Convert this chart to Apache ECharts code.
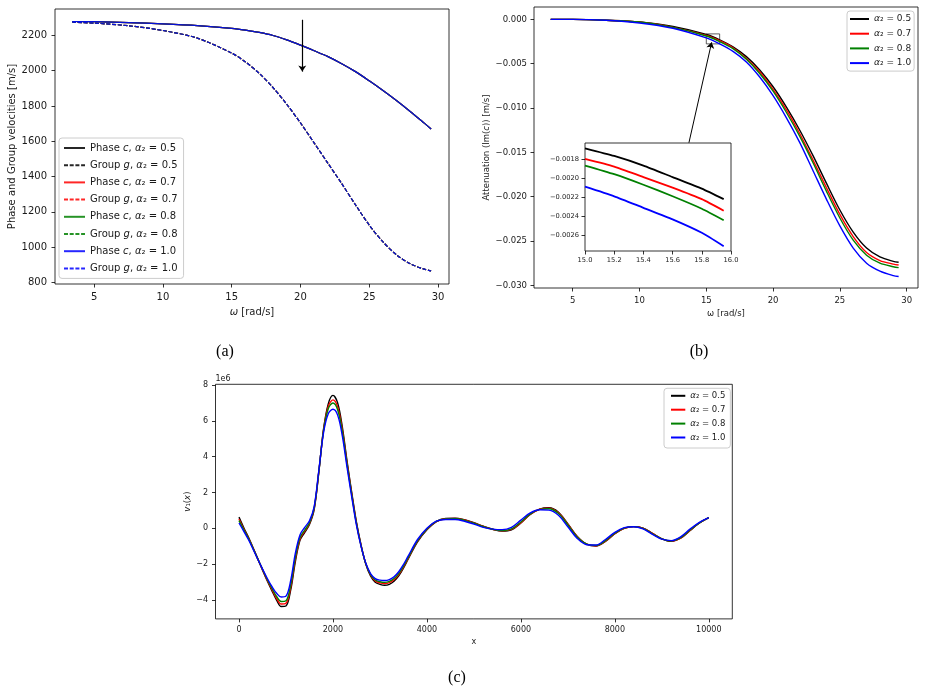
<!DOCTYPE html>
<html><head><meta charset="utf-8">
<script src="https://cdn.jsdelivr.net/npm/echarts@6/dist/echarts.min.js"></script>
<style>html,body{margin:0;padding:0;background:#fff}#c{width:926px;height:693px}</style>
</head><body><div id="c"></div>
<script>
// ---------- shared ----------
const alphas = ['0.5', '0.7', '0.8', '1.0'];
const colors = ['#000000', '#ff0000', '#008000', '#0000ff'];

// ---------- panel (a): phase / group velocities ----------
const omegaA = [3.4, 5, 7.5, 10, 12.5, 15, 16, 17, 18, 19, 20, 21, 22, 23, 24, 25, 26, 27, 28, 29, 29.5];
const phaseC = [2279, 2278, 2273, 2266, 2256, 2240, 2230, 2217, 2200, 2175, 2145, 2113, 2080, 2040, 1995, 1943, 1888, 1830, 1768, 1703, 1670];
const groupG = [2275, 2270, 2255, 2228, 2185, 2100, 2050, 1985, 1905, 1810, 1704, 1590, 1475, 1360, 1240, 1125, 1030, 955, 905, 875, 865];
const ticksAx = [5, 10, 15, 20, 25, 30];
const ticksAy = [800, 1000, 1200, 1400, 1600, 1800, 2000, 2200];
const arrowA = [[20.13, 2289], [20.13, 1995]];

// ---------- panel (b): attenuation ----------
const omegaB = [3.35, 5, 7.5, 10, 12.5, 15, 16, 17, 18, 19, 20, 21, 22, 23, 24, 25, 26, 27, 28, 29, 29.4];
const attB05 = [0, 0, -0.0001, -0.0003, -0.0008, -0.0017, -0.0023, -0.0031, -0.0042, -0.0057, -0.0076, -0.0099, -0.0125, -0.0154, -0.0185, -0.0215, -0.0240, -0.0258, -0.0268, -0.0273, -0.0274];
const attB07 = [0, 0, -0.0001, -0.0003, -0.0009, -0.0018, -0.0024, -0.0032, -0.0044, -0.0059, -0.0079, -0.0102, -0.0129, -0.0159, -0.0190, -0.0220, -0.0245, -0.0263, -0.0272, -0.0276, -0.0277];
const attB08 = [0, 0, -0.0001, -0.0003, -0.0009, -0.00187, -0.0025, -0.0033, -0.0045, -0.0061, -0.0081, -0.0105, -0.0132, -0.0162, -0.0194, -0.0224, -0.0249, -0.0266, -0.0275, -0.0279, -0.0280];
const attB10 = [0, 0, -0.0001, -0.0004, -0.0010, -0.00209, -0.00275, -0.0036, -0.0048, -0.0065, -0.0086, -0.0111, -0.0139, -0.0171, -0.0203, -0.0233, -0.0258, -0.0275, -0.0284, -0.0289, -0.0290];
const ticksBy = [0, -0.005, -0.010, -0.015, -0.020, -0.025, -0.030];
const zoomBox = [[15.0, -0.001635], [16.0, -0.00276]];
const connector = [[13.70, -0.01391], [15.40, -0.00259]];

// inset
const omegaIn = [15.0, 15.2, 15.4, 15.6, 15.8, 15.95];
const inB05 = [-0.00169, -0.00177, -0.00187, -0.00199, -0.00211, -0.00222];
const inB07 = [-0.00180, -0.00188, -0.00199, -0.00210, -0.00222, -0.00234];
const inB08 = [-0.00187, -0.00196, -0.00207, -0.00219, -0.00232, -0.00244];
const inB10 = [-0.00209, -0.00219, -0.00231, -0.00243, -0.00257, -0.00271];
const ticksInX = [15.0, 15.2, 15.4, 15.6, 15.8, 16.0];
const ticksInY = [-0.0018, -0.0020, -0.0022, -0.0024, -0.0026];

// ---------- panel (c): v1(x), units of 1e6 ----------
const xC = [0,100,200,300,400,500,600,700,800,900,1000,1100,1200,1300,1400,1500,1600,1700,1800,1900,2000,2100,2200,2300,2400,2500,2600,2700,2800,2900,3000,3100,3200,3300,3400,3500,3600,
  3800,4000,4200,4400,4600,4800,5000,5200,5400,5600,5800,6000,6200,6400,6600,6800,7000,7200,7400,7600,7800,8000,8200,8400,8600,8800,9000,9200,9400,9600,9800,10000];
const vC05 = [0.63,0.05,-0.48,-1.08,-1.70,-2.32,-2.92,-3.47,-4.00,-4.36,-4.33,-3.45,-1.85,-0.65,-0.22,0.22,1.05,3.15,5.55,6.95,7.42,
  7.00,5.65,3.75,2.00,0.35,-0.95,-2.00,-2.65,-3.00,-3.12,-3.17,-3.12,-2.95,-2.65,-2.22,-1.72,
  -0.75,-0.08,0.38,0.55,0.57,0.48,0.32,0.12,-0.05,-0.15,-0.08,0.30,0.78,1.08,1.15,0.90,0.25,-0.45,-0.88,-0.98,-0.72,-0.30,0.00,0.10,0.02,-0.28,-0.58,-0.72,-0.55,-0.12,0.30,0.60];
const vC07 = [0.52,-0.02,-0.52,-1.10,-1.70,-2.30,-2.88,-3.40,-3.90,-4.22,-4.18,-3.30,-1.72,-0.58,-0.15,0.27,1.10,3.18,5.50,6.80,7.17,
  6.78,5.50,3.65,1.93,0.30,-0.97,-1.98,-2.60,-2.93,-3.04,-3.08,-3.03,-2.87,-2.58,-2.16,-1.67,
  -0.71,-0.05,0.38,0.54,0.56,0.47,0.31,0.11,-0.05,-0.14,-0.06,0.32,0.79,1.07,1.13,0.87,0.23,-0.46,-0.88,-0.97,-0.71,-0.29,0.00,0.10,0.02,-0.28,-0.58,-0.71,-0.54,-0.11,0.30,0.60];
const vC08 = [0.43,-0.07,-0.55,-1.12,-1.70,-2.28,-2.84,-3.34,-3.80,-4.08,-4.04,-3.17,-1.60,-0.50,-0.09,0.31,1.14,3.20,5.45,6.68,7.00,
  6.62,5.38,3.57,1.87,0.26,-0.99,-1.97,-2.57,-2.88,-2.98,-3.01,-2.96,-2.80,-2.52,-2.11,-1.63,
  -0.68,-0.03,0.39,0.53,0.54,0.45,0.29,0.09,-0.05,-0.12,-0.03,0.36,0.81,1.06,1.10,0.83,0.19,-0.49,-0.88,-0.95,-0.68,-0.27,0.02,0.10,0.00,-0.30,-0.58,-0.70,-0.52,-0.09,0.31,0.60];
const vC10 = [0.30,-0.15,-0.62,-1.16,-1.72,-2.26,-2.78,-3.24,-3.62,-3.83,-3.78,-2.92,-1.38,-0.35,0.06,0.42,1.22,3.25,5.35,6.40,6.65,
  6.32,5.15,3.40,1.75,0.18,-1.02,-1.95,-2.52,-2.80,-2.89,-2.91,-2.86,-2.70,-2.42,-2.02,-1.55,
  -0.62,0.01,0.40,0.50,0.50,0.40,0.24,0.06,-0.04,-0.07,0.06,0.46,0.86,1.04,1.02,0.73,0.09,-0.56,-0.91,-0.93,-0.62,-0.22,0.04,0.09,-0.03,-0.33,-0.60,-0.68,-0.47,-0.04,0.34,0.60];
const ticksCx = [0, 2000, 4000, 6000, 8000, 10000];
const ticksCy = [-4, -2, 0, 2, 4, 6, 8];

// ---------- helpers ----------
const F = 'DejaVu Sans';
const TXT = '#1a1a1a';
const minus = s => String(s).replace('-', '\u2212');
const pairs = (xs, ys) => xs.map((x, k) => [x, ys[k]]);

function axis(o) {
  const ax = {
    type: 'value', gridIndex: o.grid, min: o.min, max: o.max,
    splitLine: { show: false }, axisLine: { show: false, onZero: false },
    axisTick: { show: true, length: 3.5, customValues: o.ticks, lineStyle: { color: '#000', width: 0.8 } },
    axisLabel: { customValues: o.ticks, fontFamily: F, fontSize: o.fs, color: TXT, margin: o.margin || 6,
      formatter: o.fmt || (v => minus(v)), showMinLabel: true, showMaxLabel: true },
    name: o.name || '', nameLocation: 'middle', nameGap: o.nameGap || 20,
    nameTextStyle: { fontFamily: F, fontSize: o.nfs || 10, color: TXT,
      rich: { i: { fontStyle: 'italic', fontFamily: F, fontSize: o.nfs || 10, color: TXT } } },
    z: o.z || 0
  };
  if (o.noMove) ax.nameMoveOverlap = false;
  return ax;
}

const series = [];
// (a)
alphas.forEach((a, i) => {
  series.push({ name: 'aC' + a, type: 'line', xAxisIndex: 0, yAxisIndex: 0, data: pairs(omegaA, phaseC),
    symbol: 'none', smooth: 0.3, animation: false,
    lineStyle: { color: colors[i], width: 1.2, opacity: 0.85 }, itemStyle: { color: colors[i] },
    markLine: i === 0 ? { silent: true, symbol: ['none', 'arrow'], symbolSize: 6, animation: false,
      label: { show: false }, lineStyle: { color: '#000', width: 1.2, type: 'solid', opacity: 1 },
      data: [[{ coord: arrowA[0] }, { coord: arrowA[1] }]] } : undefined });
  series.push({ name: 'aG' + a, type: 'line', xAxisIndex: 0, yAxisIndex: 0, data: pairs(omegaA, groupG),
    symbol: 'none', smooth: 0.3, animation: false,
    lineStyle: { color: colors[i], width: 1.2, opacity: 0.85, type: [4, 1.7] }, itemStyle: { color: colors[i] } });
});
// (b)
const attB = [attB05, attB07, attB08, attB10];
const inB = [inB05, inB07, inB08, inB10];
alphas.forEach((a, i) => {
  series.push({ name: 'b' + a, type: 'line', xAxisIndex: 1, yAxisIndex: 1, data: pairs(omegaB, attB[i]),
    symbol: 'none', smooth: 0.3, animation: false, z: 2,
    lineStyle: { color: colors[i], width: 1.4 }, itemStyle: { color: colors[i] },
    markArea: i === 0 ? { silent: true, itemStyle: { color: 'rgba(0,0,0,0)', borderColor: '#333', borderWidth: 0.8 },
      data: [[{ coord: zoomBox[0] }, { coord: zoomBox[1] }]] } : undefined,
    markLine: i === 0 ? { silent: true, symbol: ['none', 'arrow'], symbolSize: 6, animation: false,
      label: { show: false }, lineStyle: { color: '#000', width: 1, type: 'solid' },
      data: [[{ coord: connector[0] }, { coord: connector[1] }]] } : undefined });
});
alphas.forEach((a, i) => {
  series.push({ name: 'in' + a, type: 'line', xAxisIndex: 2, yAxisIndex: 2, data: pairs(omegaIn, inB[i]),
    symbol: 'none', smooth: 0.2, animation: false, z: 12,
    lineStyle: { color: colors[i], width: 1.8 }, itemStyle: { color: colors[i] } });
});
// (c)
const vC = [vC05, vC07, vC08, vC10];
alphas.forEach((a, i) => {
  series.push({ name: 'c' + a, type: 'line', xAxisIndex: 3, yAxisIndex: 3, data: pairs(xC, vC[i]),
    symbol: 'none', smooth: 0.35, animation: false,
    lineStyle: { color: colors[i], width: 1.4 }, itemStyle: { color: colors[i] } });
});

const labelA = n => (n[1] === 'C' ? 'Phase {i|c}, ' : 'Group {i|g}, ') + '{i|α}₂ = ' + n.slice(2);
const labelBC = n => '{i|α}₂ = ' + n.replace(/^[bc]/, '');

const legendBase = (o) => ({
  orient: 'vertical', left: o.left, top: o.top, data: o.data,
  itemWidth: o.iw, itemHeight: o.ih, itemGap: o.gap, padding: o.pad,
  backgroundColor: 'rgba(255,255,255,0.85)', borderColor: '#cccccc', borderWidth: 1, borderRadius: 3,
  formatter: o.fmt, selectedMode: false,
  itemStyle: { opacity: 0, borderWidth: 0 },
  textStyle: { fontFamily: F, fontSize: o.fs, color: TXT, lineHeight: o.ih,
    rich: { i: { fontStyle: 'italic', fontFamily: F, fontSize: o.fs, color: TXT } } }
});

const option = {
  backgroundColor: '#ffffff',
  animation: false,
  grid: [
    { left: 55, top: 9, width: 394, height: 275, show: true, borderColor: '#000', borderWidth: 0.8, backgroundColor: 'rgba(0,0,0,0)' },
    { left: 534, top: 7, width: 384, height: 281, show: true, borderColor: '#000', borderWidth: 0.8, backgroundColor: 'rgba(0,0,0,0)' },
    { left: 585, top: 143, width: 146, height: 108, show: true, borderColor: '#000', borderWidth: 0.8, backgroundColor: '#ffffff', z: 10 },
    { left: 215.5, top: 384.3, width: 516.8, height: 234.6, show: true, borderColor: '#000', borderWidth: 0.8, backgroundColor: 'rgba(0,0,0,0)' }
  ],
  xAxis: [
    axis({ grid: 0, min: 2.15, max: 30.8, ticks: ticksAx, fs: 10, margin: 8, name: '{i|ω} [rad/s]', nameGap: 23, nfs: 10 }),
    axis({ grid: 1, min: 2.1, max: 30.85, ticks: ticksAx, fs: 8.5, margin: 8, name: 'ω [rad/s]', nameGap: 21, nfs: 8.5 }),
    axis({ grid: 2, min: 15, max: 16, ticks: ticksInX, fs: 6.7, margin: 6, fmt: v => v.toFixed(1), z: 11 }),
    axis({ grid: 3, min: -500, max: 10500, ticks: ticksCx, fs: 8, margin: 7, name: 'x', nameGap: 19, nfs: 8 })
  ],
  yAxis: [
    axis({ grid: 0, min: 791, max: 2350, ticks: ticksAy, fs: 10, margin: 8, name: 'Phase and Group velocities [m/s]', nameGap: 38, nfs: 10 }),
    axis({ grid: 1, min: -0.0303, max: 0.0014, ticks: ticksBy, fs: 8.5, margin: 7, fmt: v => minus(v.toFixed(3)).replace('\u22120.000', '0.000'),
      name: 'Attenuation (Im({i|c})) [m/s]', nameGap: 43, nfs: 8.5 }),
    axis({ grid: 2, min: -0.00276, max: -0.001635, ticks: ticksInY, fs: 6.7, margin: 6, fmt: v => minus(v.toFixed(4)), z: 11 }),
    axis({ grid: 3, min: -5.05, max: 8.04, ticks: ticksCy, fs: 8, margin: 7.5, name: '{i|v}₁({i|x})', nameGap: 23, nfs: 8.5, noMove: true })
  ],
  legend: [
    legendBase({ left: 59, top: 138, data: alphas.flatMap(a => ['aC' + a, 'aG' + a]), iw: 21, ih: 12, gap: 5.2,
      pad: [4, 6, 4, 4], fs: 10, fmt: labelA }),
    legendBase({ left: 847, top: 11, data: alphas.map(a => 'b' + a), iw: 19, ih: 10, gap: 4.7,
      pad: [3, 3, 3, 2], fs: 9, fmt: labelBC }),
    legendBase({ left: 664, top: 388.3, data: alphas.map(a => 'c' + a), iw: 14.3, ih: 10, gap: 3.9,
      pad: [2.5, 5, 5.5, 6], fs: 8.5, fmt: labelBC })
  ],
  graphic: [
    { type: 'text', x: 225, y: 352, style: { text: '(a)', font: '16px "Liberation Serif"', fill: '#000', align: 'center', verticalAlign: 'middle', textAlign: 'center', textVerticalAlign: 'middle' } },
    { type: 'text', x: 699, y: 352, style: { text: '(b)', font: '16px "Liberation Serif"', fill: '#000', align: 'center', verticalAlign: 'middle', textAlign: 'center', textVerticalAlign: 'middle' } },
    { type: 'text', x: 457, y: 678, style: { text: '(c)', font: '16px "Liberation Serif"', fill: '#000', align: 'center', verticalAlign: 'middle', textAlign: 'center', textVerticalAlign: 'middle' } },
    { type: 'text', x: 215.5, y: 378.5, style: { text: '1e6', font: '8px "DejaVu Sans"', fill: TXT, align: 'left', verticalAlign: 'middle', textAlign: 'left', textVerticalAlign: 'middle' } }
  ],
  series: series
};

const chart = echarts.init(document.getElementById('c'), null, { renderer: 'canvas' });
chart.setOption(option);
</script>
</body></html>
